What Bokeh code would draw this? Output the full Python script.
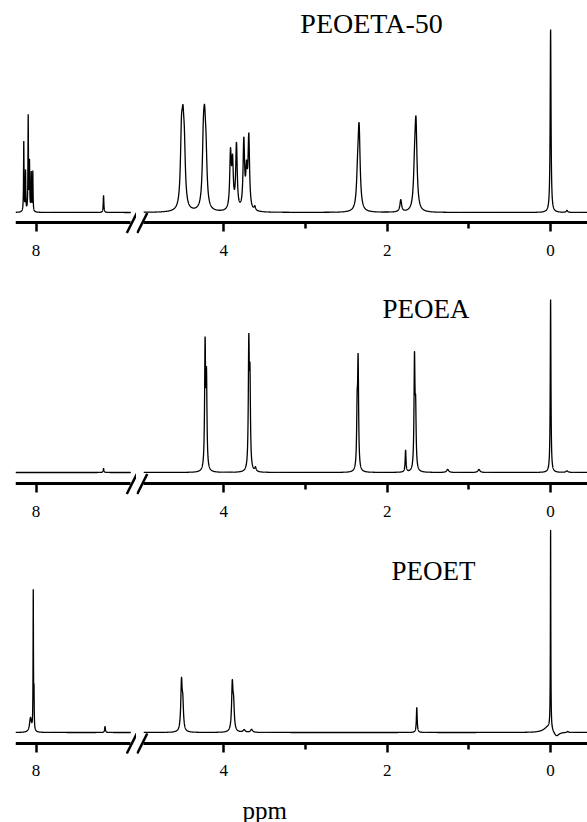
import numpy as np
from bokeh.plotting import figure
from bokeh.layouts import column, row
from bokeh.models import Range1d, FixedTicker
from bokeh.core.properties import value
from bokeh.embed import file_html
from bokeh.resources import INLINE

# ---------------- data: 1H NMR peak tables ----------------
# chemical shift (ppm), intensity (a.u.), line width FWHM (ppm)
PEOETA50_shift = [8.133, 8.114, 8.085, 8.071, 8.052, 8.035, 7.266,
                  4.518, 4.500, 4.483, 4.250, 4.235, 4.218,
                  3.918, 3.893, 3.845, 3.755, 3.722, 3.694, 3.620,
                  2.362, 2.344, 1.834, 1.665, 1.648, 0.000, -0.200]
PEOETA50_height = [70, 40, 95, 48, 38, 40, 17,
                   64, 60, 48, 56, 60, 43,
                   55, 45, 65, 68, 35, 72, 4,
                   28, 78, 12, 32, 82, 183, 2]
PEOETA50_width = [0.006, 0.006, 0.006, 0.006, 0.006, 0.006, 0.008,
                  0.03, 0.03, 0.03, 0.03, 0.03, 0.03,
                  0.022, 0.022, 0.022, 0.022, 0.022, 0.022, 0.02,
                  0.03, 0.03, 0.025, 0.03, 0.03, 0.012, 0.02]

PEOEA_shift = [7.266, 4.229, 4.212, 3.694, 3.680, 3.612, 2.368, 2.356,
               1.775, 1.666, 1.652, 1.260, 0.877, 0.000, -0.200]
PEOEA_height = [4, 123, 88, 122, 85, 4, 55, 105,
                22, 110, 55, 3, 3, 173, 1.5]
PEOEA_width = [0.01, 0.014, 0.014, 0.014, 0.014, 0.02, 0.014, 0.014,
               0.012, 0.014, 0.014, 0.03, 0.03, 0.01, 0.03]

PEOET_shift = [8.060, 8.030, 8.022, 7.250, 4.518, 4.502, 3.896, 3.880,
               3.750, 3.660, 1.638, 0.030, 0.000, -0.070, -0.210]
PEOET_height = [14, 138, 35, 6, 48, 25, 46, 24,
                2.5, 3, 25, 6, 199, -5, 1]
PEOET_width = [0.025, 0.005, 0.005, 0.01, 0.02, 0.02, 0.02, 0.02,
               0.03, 0.03, 0.012, 0.12, 0.006, 0.08, 0.02]

SAMPLE_NAMES = ["PEOETA-50", "PEOEA", "PEOET"]
LEFT_TICKS = [8]
RIGHT_TICKS = [4, 2, 0]
RIGHT_MINOR = [3, 1]
X_LABEL = "ppm"

# ---------------- layout / style ----------------
FONT = "Liberation Serif"
LEFT_VIEW = (8.223, 6.908)      # ppm at left/right edge of left frame
RIGHT_VIEW = (5.0686, -0.4516)  # ppm at left/right edge of right frame
LEFT_SEG = (8.223, 6.97)        # drawn part of left segment
RIGHT_SEG = (4.98, -0.4516)     # drawn part of right segment
LEFT_PX_PER_PPM = 92.0
RIGHT_PX_PER_PPM = 81.7
STEP = 0.0005


def spectrum(x, shifts, heights, widths):
    y = np.zeros_like(x)
    for s, h, w in zip(shifts, heights, widths):
        y += h / (1.0 + ((x - s) / (w / 2.0)) ** 2)
    return y


def style_axis(p, ticks, minor, bounds, y_axis):
    ax = p.xaxis[0]
    ax.fixed_location = y_axis
    ax.ticker = FixedTicker(ticks=ticks, minor_ticks=minor)
    ax.bounds = (min(bounds), max(bounds))
    ax.axis_line_width = 3
    ax.axis_line_color = "black"
    ax.major_tick_line_width = 2.5
    ax.major_tick_out = 9
    ax.major_tick_in = 0
    ax.minor_tick_line_width = 2.5
    ax.minor_tick_out = 6
    ax.minor_tick_in = 0
    ax.major_label_text_font = FONT
    ax.major_label_text_font_size = "17px"
    ax.major_label_text_color = "black"
    ax.major_label_standoff = 13


def base_fig(width, height, xr, yr, bl):
    p = figure(width=width, height=height, x_range=Range1d(*xr), y_range=Range1d(*yr),
               output_backend="svg", toolbar_location=None, y_axis_location=None,
               min_border_left=bl, min_border_right=0, min_border_top=0,
               min_border_bottom=0)
    p.outline_line_color = None
    p.grid.visible = False
    p.background_fill_color = "white"
    p.border_fill_color = "white"
    return p


def make_row(name, shifts, heights, widths, yr, y_axis, height, title_xy, title_px,
             with_xlabel=False):
    fl = base_fig(136, height, LEFT_VIEW, yr, 15)
    fr = base_fig(451, height, RIGHT_VIEW, yr, 0)

    xl = np.arange(LEFT_SEG[0], LEFT_SEG[1] - STEP / 2, -STEP)
    xr = np.arange(RIGHT_SEG[0], RIGHT_SEG[1] - STEP / 2, -STEP)
    fl.line(xl, spectrum(xl, shifts, heights, widths), line_color="black", line_width=1.3)
    fr.line(xr, spectrum(xr, shifts, heights, widths), line_color="black", line_width=1.3)

    style_axis(fl, LEFT_TICKS, [], LEFT_SEG, y_axis)
    style_axis(fr, RIGHT_TICKS, RIGHT_MINOR, RIGHT_SEG, y_axis)

    # break marks "//" centred on the axis line
    dxl = 5.0 / LEFT_PX_PER_PPM
    dxr = 5.0 / RIGHT_PX_PER_PPM
    cl = LEFT_SEG[1] - 1.0 / LEFT_PX_PER_PPM
    cr = RIGHT_SEG[0] + 1.5 / RIGHT_PX_PER_PPM
    fl.segment(x0=[cl + dxl], y0=[y_axis - 10.5], x1=[cl - dxl], y1=[y_axis + 9.5],
               line_width=2.5, line_color="black")
    fr.segment(x0=[cr + dxr], y0=[y_axis - 10.5], x1=[cr - dxr], y1=[y_axis + 9.5],
               line_width=2.5, line_color="black")

    fr.text(x=[title_xy[0]], y=[title_xy[1]], text=[name],
            text_font=value(FONT), text_font_size=value(title_px),
            text_align="center", text_baseline="middle", text_color="black")

    if with_xlabel:
        fr.text(x=[3.50], y=[y_axis - 67], text=[X_LABEL],
                text_font=value(FONT), text_font_size=value("25px"),
                text_align="center", text_baseline="alphabetic", text_color="black")
    return row(fl, fr)


r1 = make_row(SAMPLE_NAMES[0], PEOETA50_shift, PEOETA50_height, PEOETA50_width,
              (-49, 212), -10, 261, (2.192, 189), "28px")
r2 = make_row(SAMPLE_NAMES[1], PEOEA_shift, PEOEA_height, PEOEA_width,
              (-50, 211), -11, 261, (1.525, 164), "27px")
r3 = make_row(SAMPLE_NAMES[2], PEOET_shift, PEOET_height, PEOET_width,
              (-90, 210), -10.5, 300, (1.433, 162), "27px", with_xlabel=True)

layout = column(r1, r2, r3)
open("out.html", "w").write(file_html(layout, INLINE))
